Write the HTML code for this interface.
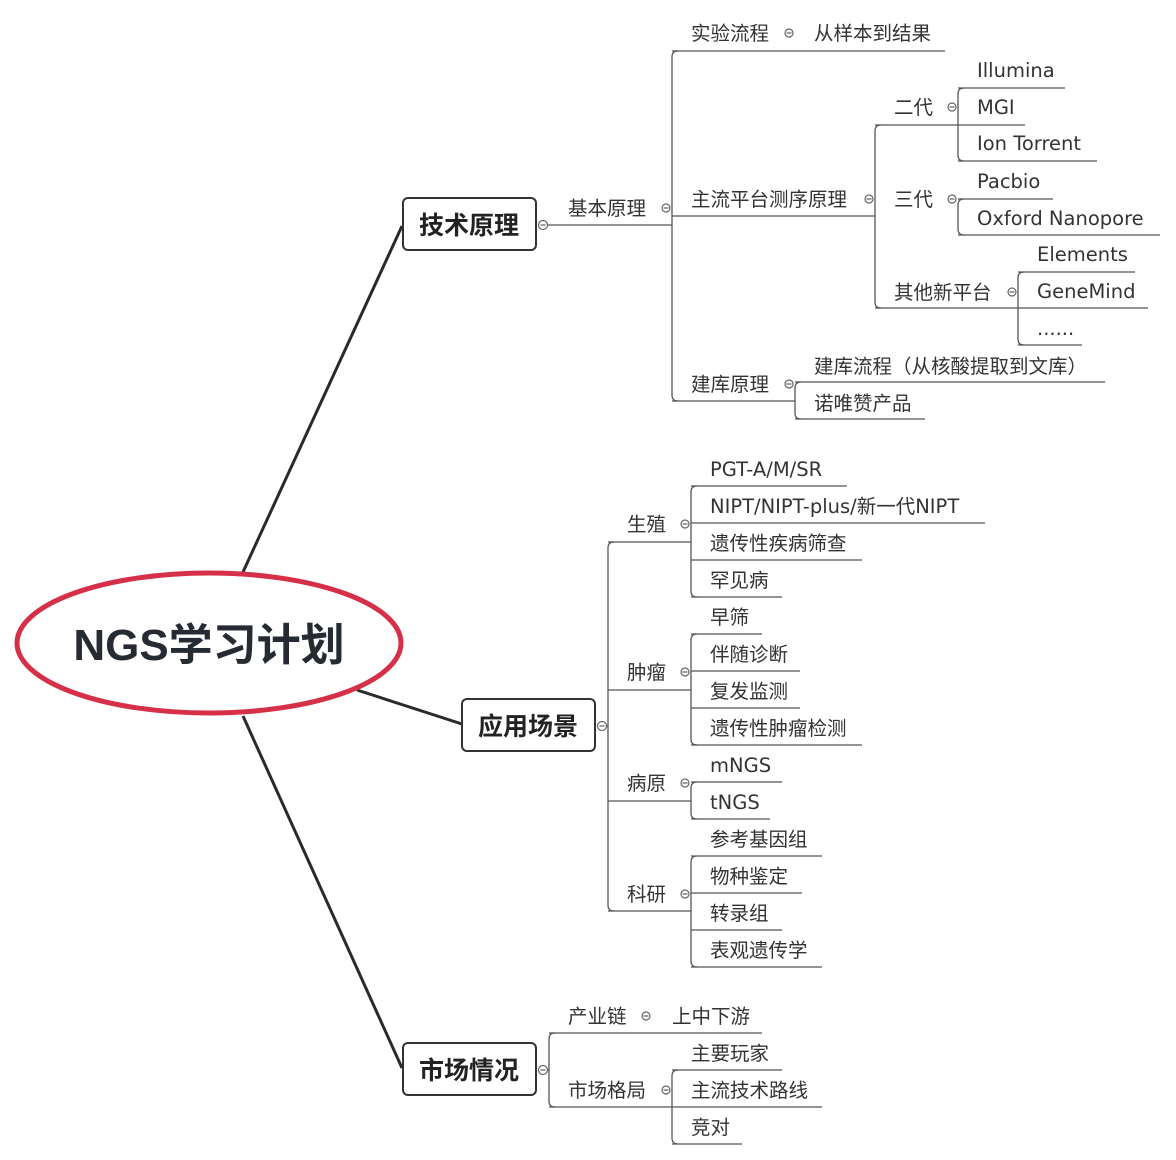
<!DOCTYPE html>
<html><head><meta charset="utf-8"><style>
html,body{margin:0;padding:0;background:#fff;}
svg{display:block;}
text{font-family:"DejaVu Sans","Noto Sans CJK SC",sans-serif;fill:#333;font-size:19.5px;}
.b{font-family:"Liberation Sans","Noto Sans CJK SC",sans-serif;font-weight:bold;font-size:25px;fill:#222;}
.l{stroke:#555;stroke-width:1.3;fill:none;}
.c{stroke:#666;stroke-width:1.2;fill:#fff;}
</style></head><body>
<svg width="1176" height="1160" viewBox="0 0 1176 1160" xmlns="http://www.w3.org/2000/svg">
<path d="M243 572 L402 226" stroke="#2a2a2a" stroke-width="3" fill="none"/>
<path d="M357 690 L462 724" stroke="#2a2a2a" stroke-width="3" fill="none"/>
<path d="M243 716 L402 1068" stroke="#2a2a2a" stroke-width="3" fill="none"/>
<ellipse cx="209" cy="643" rx="192" ry="70" fill="#fff" stroke="#d63048" stroke-width="5"/>
<text x="209" y="660" text-anchor="middle" style="font-family:'Liberation Sans','Noto Sans CJK SC',sans-serif;font-weight:bold;font-size:44px;fill:#262b33">NGS学习计划</text>

<rect x="403" y="198" width="133" height="52" rx="5" fill="#fff" stroke="#333" stroke-width="2"/>
<text x="469" y="234" text-anchor="middle" class="b">技术原理</text>
<rect x="462" y="699" width="133" height="52" rx="5" fill="#fff" stroke="#333" stroke-width="2"/>
<text x="528" y="735" text-anchor="middle" class="b">应用场景</text>
<rect x="403" y="1043" width="133" height="52" rx="5" fill="#fff" stroke="#333" stroke-width="2"/>
<text x="469" y="1079" text-anchor="middle" class="b">市场情况</text>

<g class="l">
<path d="M548 225H672"/>
<path d="M678 51Q672 51 672 57V395Q672 401 678 401"/>
<path d="M672 51H945"/><path d="M672 216H875"/><path d="M672 401H795"/>
<path d="M881 125Q875 125 875 131V302Q875 308 881 308"/>
<path d="M875 125H958"/><path d="M875 308H1018"/>
<path d="M964 88Q958 88 958 94V155Q958 161 964 161"/>
<path d="M958 88H1065"/><path d="M958 125H1025"/><path d="M958 161H1097"/>
<path d="M964 199Q958 199 958 205V229Q958 235 964 235"/>
<path d="M958 199H1053"/><path d="M958 235H1160"/>
<path d="M1024 272Q1018 272 1018 278V339Q1018 345 1024 345"/>
<path d="M1018 272H1135"/><path d="M1018 308H1148"/><path d="M1018 345H1082"/>
<path d="M801 382Q795 382 795 388V413Q795 419 801 419"/>
<path d="M795 382H1105"/><path d="M795 419H925"/>
<path d="M614 542Q608 542 608 548V905Q608 911 614 911"/>
<path d="M608 542H691"/><path d="M608 690H691"/><path d="M608 801H691"/><path d="M608 911H691"/>
<path d="M697 486Q691 486 691 492V591Q691 597 697 597"/>
<path d="M691 486H847"/><path d="M691 523H985"/><path d="M691 560H862"/><path d="M691 597H782"/>
<path d="M697 634Q691 634 691 640V739Q691 745 697 745"/>
<path d="M691 634H762"/><path d="M691 671H800"/><path d="M691 708H800"/><path d="M691 745H862"/>
<path d="M697 782Q691 782 691 788V813Q691 819 697 819"/>
<path d="M691 782H782"/><path d="M691 819H770"/>
<path d="M697 856Q691 856 691 862V961Q691 967 697 967"/>
<path d="M691 856H822"/><path d="M691 893H802"/><path d="M691 930H782"/><path d="M691 967H822"/>
<path d="M555 1033Q549 1033 549 1039V1101Q549 1107 555 1107"/>
<path d="M549 1033H762"/><path d="M549 1107H672"/>
<path d="M678 1070Q672 1070 672 1076V1138Q672 1144 678 1144"/>
<path d="M672 1070H782"/><path d="M672 1107H822"/><path d="M672 1144H742"/>
<path d="M602 726H608"/><path d="M543 1070H549"/>
</g>

<g class="c">
<circle cx="543" cy="225" r="4.5"/><circle cx="602" cy="726" r="4.5"/><circle cx="543" cy="1070" r="4.5"/>
<circle cx="666" cy="208" r="4"/><circle cx="789" cy="33" r="4"/><circle cx="869" cy="199" r="4"/>
<circle cx="952" cy="107" r="4"/><circle cx="952" cy="199" r="4"/><circle cx="1012" cy="292" r="4"/>
<circle cx="789" cy="384" r="4"/>
<circle cx="685" cy="524" r="4"/><circle cx="685" cy="672" r="4"/><circle cx="685" cy="783" r="4"/><circle cx="685" cy="894" r="4"/>
<circle cx="646" cy="1016" r="4"/><circle cx="666" cy="1090" r="4"/>
</g>
<g stroke="#666" stroke-width="1.2">
<path d="M540.5 225h5M599.5 726h5M540.5 1070h5M663.5 208h5M786.5 33h5M866.5 199h5M949.5 107h5M949.5 199h5M1009.5 292h5M786.5 384h5M682.5 524h5M682.5 672h5M682.5 783h5M682.5 894h5M643.5 1016h5M663.5 1090h5"/>
</g>

<text x="568" y="215">基本原理</text>
<text x="691" y="40">实验流程</text><text x="814" y="40">从样本到结果</text>
<text x="691" y="206">主流平台测序原理</text>
<text x="894" y="114">二代</text><text x="894" y="206">三代</text><text x="894" y="299">其他新平台</text>
<text x="977" y="77">Illumina</text><text x="977" y="114">MGI</text><text x="977" y="150">Ion Torrent</text>
<text x="977" y="188">Pacbio</text><text x="977" y="225">Oxford Nanopore</text>
<text x="1037" y="261">Elements</text><text x="1037" y="298">GeneMind</text><text x="1037" y="335">......</text>
<text x="691" y="391">建库原理</text>
<text x="814" y="373">建库流程（从核酸提取到文库）</text><text x="814" y="410">诺唯赞产品</text>

<text x="627" y="531">生殖</text><text x="627" y="679">肿瘤</text><text x="627" y="790">病原</text><text x="627" y="901">科研</text>
<text x="710" y="476">PGT-A/M/SR</text><text x="710" y="513">NIPT/NIPT-plus/新一代NIPT</text>
<text x="710" y="550">遗传性疾病筛查</text><text x="710" y="587">罕见病</text>
<text x="710" y="624">早筛</text><text x="710" y="661">伴随诊断</text><text x="710" y="698">复发监测</text><text x="710" y="735">遗传性肿瘤检测</text>
<text x="710" y="772">mNGS</text><text x="710" y="809">tNGS</text>
<text x="710" y="846">参考基因组</text><text x="710" y="883">物种鉴定</text><text x="710" y="920">转录组</text><text x="710" y="957">表观遗传学</text>

<text x="568" y="1023">产业链</text><text x="672" y="1023">上中下游</text>
<text x="568" y="1097">市场格局</text>
<text x="691" y="1060">主要玩家</text><text x="691" y="1097">主流技术路线</text><text x="691" y="1134">竞对</text>
</svg>
</body></html>
